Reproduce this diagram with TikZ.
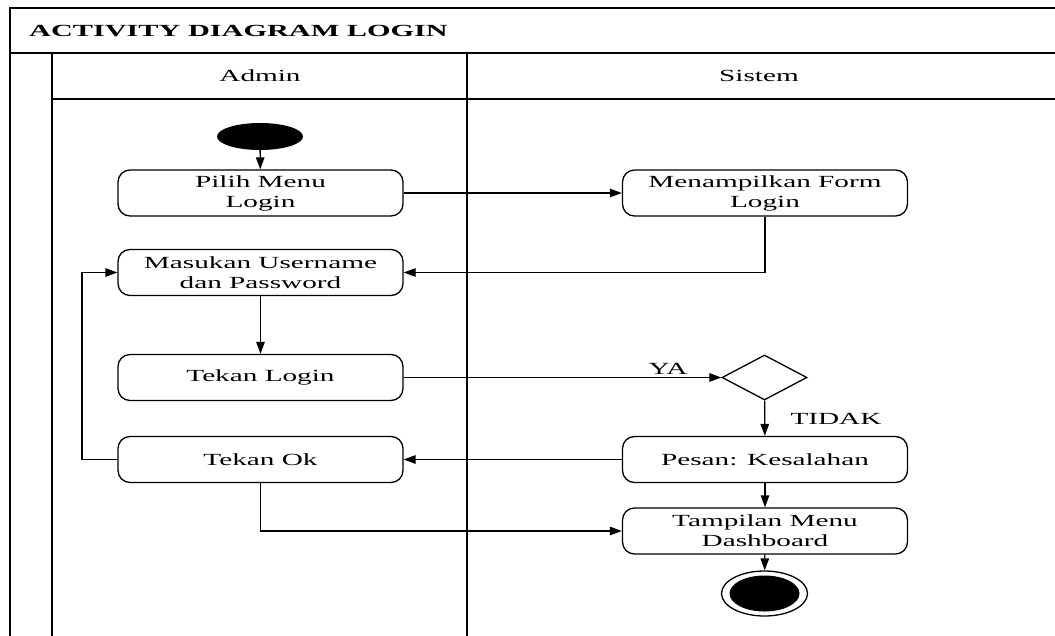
\documentclass[tikz,border=0pt]{standalone}
\usepackage{fontspec}
\setmainfont{Liberation Serif}
% wide-set serif used for every label of the activity diagram
\newfontfamily\actfont[FakeStretch=1.72]{Liberation Serif}
\newfontfamily\titlefont[FakeStretch=1.78]{Liberation Serif}
\usetikzlibrary{shapes.geometric,arrows.meta}

\begin{document}
\begin{tikzpicture}[x=1pt,y=-1pt,
  frame/.style={line width=1.7pt, line cap=rect},
  lbl/.style={inner sep=0pt, font=\actfont\fontsize{17}{20}\selectfont},
  act/.style={draw, line width=1.3pt, rounded corners=12pt,
    minimum width=285pt, minimum height=46pt, inner sep=0pt,
    align=center, font=\actfont\fontsize{17}{20}\selectfont},
  flow/.style={line width=1.3pt, -{Triangle[length=12pt,width=8.5pt]}}]

\useasboundingbox (0,0) rectangle (1055,635);

% swimlane frame
\draw[frame] (10,635) -- (10,8) -- (1055,8);
\draw[frame] (10,53) -- (1055,53);
\draw[frame] (52,635) -- (52,53);
\draw[frame] (52,99) -- (1055,99);
\draw[frame] (467,53) -- (467,635);

\node[lbl, anchor=west, font=\titlefont\bfseries\fontsize{17}{20}\selectfont] (title) at (29,31) {ACTIVITY DIAGRAM LOGIN};
\node[lbl] (admin) at (260,76) {Admin};
\node[lbl] (sistem) at (759,76) {Sistem};

% activities
\node[ellipse, fill=black, minimum width=86pt, minimum height=27pt, inner sep=0pt] (start) at (260,136.5) {};
\node[act] (pilih) at (260.5,193) {Pilih Menu\\Login};
\node[act] (masukan) at (260.5,272.5) {Masukan Username\\dan Password};
\node[act] (tekanlogin) at (260.5,377.5) {Tekan Login};
\node[act] (tekanok) at (260.5,459.5) {Tekan Ok};

\node[act] (form) at (765,193) {Menampilkan Form\\Login};
\node[diamond, draw, line width=1.3pt, minimum width=85pt, minimum height=45pt, inner sep=0pt] (dec) at (764.5,377.5) {};
\node[act] (pesan) at (765,459.5) {Pesan: Kesalahan};
\node[act] (tampilan) at (765,531) {Tampilan Menu\\Dashboard};
\node[ellipse, draw, line width=1.3pt, minimum width=86pt, minimum height=45pt, inner sep=0pt] (end) at (764.5,593.5) {};
\node[ellipse, fill=black, minimum width=70pt, minimum height=36pt, inner sep=0pt] (endcore) at (end.center) {};

\node[lbl] (ya) at (668,369) {YA};
\node[lbl] (tidak) at (836,419) {TIDAK};
\coordinate (loop) at (82,459.5);

% control flow
\draw[flow] (start) -- (pilih);
\draw[flow] (pilih) -- (form);
\draw[flow] (form.south) |- (masukan.east);
\draw[flow] (masukan) -- (tekanlogin);
\draw[flow] (tekanlogin) -- (dec);
\draw[flow] (dec) -- (pesan);
\draw[flow] (pesan) -- (tekanok);
\draw[flow] (tekanok.west) -- (loop) |- (masukan.west);
\draw[flow] (tekanok.south) |- (tampilan.west);
\draw[flow] (pesan) -- (tampilan);
\draw[flow] (tampilan) -- (end);
\end{tikzpicture}
\end{document}
